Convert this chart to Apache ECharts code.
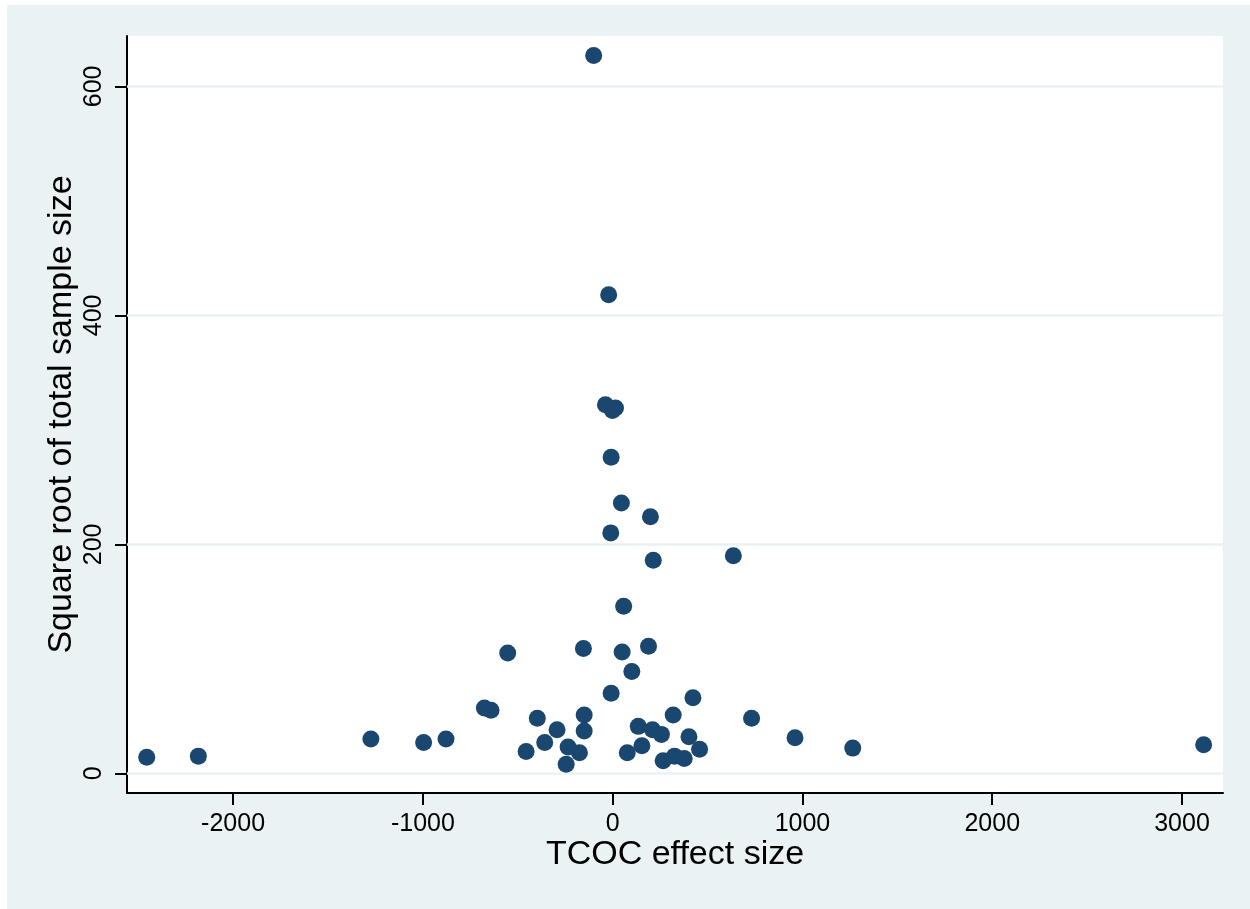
<!DOCTYPE html>
<html>
<head>
<meta charset="utf-8">
<title>TCOC effect size vs sample size</title>
<script src="https://cdn.jsdelivr.net/npm/echarts@6/dist/echarts.min.js"></script>
<style>
  html, body { margin: 0; padding: 0; background: #ffffff; }
  #chart { position: absolute; left: 7px; top: 5px; width: 1243px; height: 904px; }
</style>
</head>
<body>
<div id="chart"></div>
<script>
// Effect size on TCOC (x) against square root of total sample size (y), one entry per study
const effectSize = [
  -100, -21, -38, 15, -1, -8, 46, 199, -10, 214,
  636, 58, -553, -154, 50, 189, 101, -8, 423, -676,
  -641, -397, -150, 319, 732, -293, -150, 135, 210, 257,
  402, 961, -996, -878, -358, -235, -175, -456, -245, 77,
  154, 266, 326, 377, 458, -2455, -2183, -1274, 3114, 1265
];
const sqrtSampleSize = [
  627, 418, 322, 319, 317, 276, 236, 224, 210, 186,
  190, 146, 105, 109, 106, 111, 89, 70, 66, 57,
  55, 48, 51, 51, 48, 38, 37, 41, 38, 34,
  32, 31, 27, 30, 27, 23, 18, 19, 8, 18,
  24, 11, 15, 13, 21, 14, 15, 30, 25, 22
];

// Axis ticks
const xTicks = [-2000, -1000, 0, 1000, 2000, 3000];
const yTicks = [0, 200, 400, 600];

const points = effectSize.map((x, i) => [x, sqrtSampleSize[i]]);

const FONT = '"Liberation Sans", Arial, Helvetica, sans-serif';
const plain = v => String(v);
const chart = echarts.init(document.getElementById('chart'), null, { renderer: 'canvas' });

chart.setOption({
  backgroundColor: '#eaf2f3',
  animation: false,
  textStyle: { fontFamily: FONT, color: '#000' },
  grid: {
    left: 120, top: 31, right: 27, bottom: 116,
    show: true, backgroundColor: '#ffffff', borderWidth: 0,
    containLabel: false
  },
  xAxis: {
    type: 'value',
    min: -2559, max: 3216,
    name: 'TCOC effect size',
    nameLocation: 'middle',
    nameGap: 45,
    nameMoveOverlap: false,
    nameTextStyle: { fontSize: 34, color: '#000', fontFamily: FONT },
    axisLine: { show: true, onZero: false, lineStyle: { color: '#000', width: 2 } },
    axisTick: { show: true, length: 12, lineStyle: { color: '#000', width: 2 }, customValues: xTicks },
    axisLabel: { fontSize: 25, color: '#000', margin: 19, fontFamily: FONT, customValues: xTicks, formatter: plain },
    splitLine: { show: false }
  },
  yAxis: {
    type: 'value',
    min: -17.2, max: 644,
    name: 'Square root of total sample size',
    nameLocation: 'middle',
    nameGap: 48,
    nameMoveOverlap: false,
    nameRotate: 90,
    nameTextStyle: { fontSize: 34, color: '#000', fontFamily: FONT },
    axisLine: { show: true, onZero: false, lineStyle: { color: '#000', width: 2 } },
    axisTick: { show: true, length: 12, lineStyle: { color: '#000', width: 2 }, customValues: yTicks },
    axisLabel: { fontSize: 25, color: '#000', margin: 20, rotate: 90, fontFamily: FONT, customValues: yTicks, formatter: plain },
    splitLine: { show: false }
  },
  series: [
    {
      // horizontal grid lines at the y ticks
      type: 'scatter',
      data: [],
      silent: true,
      z: 1,
      markLine: {
        silent: true,
        symbol: 'none',
        label: { show: false },
        lineStyle: { color: '#eaf2f3', width: 2.5, type: 'solid' },
        data: yTicks.map(v => ({ yAxis: v }))
      }
    },
    {
      type: 'scatter',
      data: points,
      symbol: 'circle',
      symbolSize: 17,
      z: 5,
      itemStyle: { color: '#1a476f', opacity: 1 }
    }
  ]
});
</script>
</body>
</html>
